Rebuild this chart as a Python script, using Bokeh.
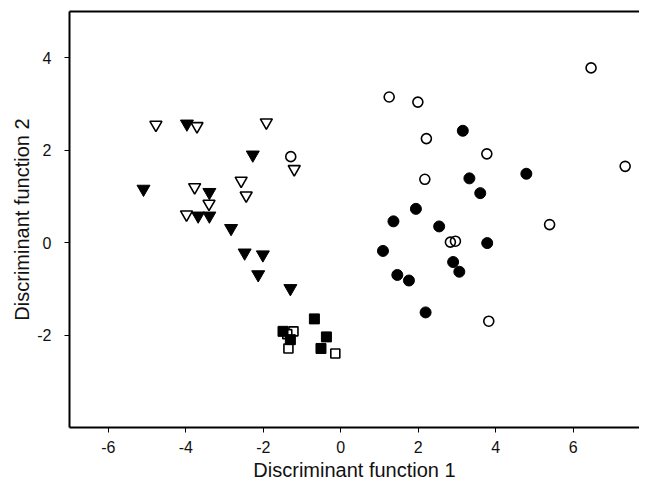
from bokeh.plotting import figure
from bokeh.models import LinearAxis, FixedTicker, Range1d, Title
from bokeh.embed import file_html
from bokeh.resources import INLINE

# Data
open_tri_x = [-4.77, -3.71, -1.92, -1.20, -3.77, -2.57, -2.44, -3.40, -3.98]
open_tri_y = [2.55, 2.52, 2.60, 1.59, 1.20, 1.34, 1.02, 0.84, 0.61]

fill_tri_x = [-3.97, -2.27, -5.09, -3.39, -3.68, -3.39, -2.83, -2.48, -2.01, -2.13, -1.30]
fill_tri_y = [2.57, 1.90, 1.16, 1.09, 0.58, 0.58, 0.31, -0.22, -0.26, -0.69, -0.99]

open_circ_x = [-1.29, 1.25, 1.99, 2.21, 3.77, 2.17, 2.83, 2.96, 3.82, 6.46, 7.34, 5.39]
open_circ_y = [1.86, 3.15, 3.04, 2.25, 1.92, 1.37, 0.01, 0.03, -1.70, 3.78, 1.65, 0.39]

fill_circ_x = [3.15, 3.32, 4.79, 3.60, 1.94, 1.36, 2.54, 3.78, 1.09, 2.90, 3.06, 1.46, 1.76, 2.19]
fill_circ_y = [2.42, 1.39, 1.49, 1.07, 0.73, 0.46, 0.35, -0.01, -0.18, -0.42, -0.63, -0.70, -0.82, -1.51]

open_sq_x = [-1.22, -1.38, -1.35, -0.14]
open_sq_y = [-1.92, -1.98, -2.29, -2.40]

fill_sq_x = [-0.68, -1.49, -1.30, -0.37, -0.51]
fill_sq_y = [-1.65, -1.92, -2.10, -2.04, -2.29]

x_ticks = [-6, -4, -2, 0, 2, 4, 6]
x_tick_labels = ["-6", "-4", "-2", "0", "2", "4", "6"]
y_ticks = [-2, 0, 2, 4]
y_tick_labels = ["-2", "0", "2", "4"]

FONT = "Liberation Sans"

p = figure(width=639, height=483, output_backend="svg", toolbar_location=None,
           x_range=Range1d(-7, 7.71), y_range=Range1d(-4, 5),
           min_border_left=69, min_border_right=0, min_border_top=11, min_border_bottom=0)
p.xgrid.visible = False
p.ygrid.visible = False
p.outline_line_color = None
p.background_fill_color = "white"

for ax in (p.xaxis[0], p.yaxis[0]):
    ax.axis_line_width = 2
    ax.axis_line_color = "black"
    ax.major_tick_line_color = "black"
    ax.major_tick_line_width = 1
    ax.major_tick_out = 5
    ax.major_tick_in = 0
    ax.minor_tick_line_color = None
    ax.major_label_text_font = FONT
    ax.major_label_text_font_size = "16px"
    ax.major_label_text_color = "#111111"

p.xaxis[0].ticker = FixedTicker(ticks=x_ticks)
p.yaxis[0].ticker = FixedTicker(ticks=y_ticks)
p.xaxis[0].major_label_overrides = {t: s for t, s in zip(x_ticks, x_tick_labels)}
p.yaxis[0].major_label_overrides = {t: s for t, s in zip(y_ticks, y_tick_labels)}
p.xaxis[0].major_label_standoff = 8
p.yaxis[0].major_label_standoff = 13
p.xaxis[0].axis_label = "Discriminant function 1"
p.xaxis[0].axis_label_text_font = FONT
p.xaxis[0].axis_label_text_font_size = "20px"
p.xaxis[0].axis_label_text_font_style = "normal"
p.xaxis[0].axis_label_text_color = "#111111"
p.xaxis[0].axis_label_standoff = 3

top = LinearAxis(ticker=FixedTicker(ticks=[]), axis_line_width=2, axis_line_color="black",
                 major_tick_line_color=None, minor_tick_line_color=None,
                 major_label_text_font_size="0px")
p.add_layout(top, "above")

ytitle = Title(text="Discriminant function 2", align="center", offset=20,
               text_font=FONT, text_font_size="20px", text_font_style="normal",
               text_color="#111111", standoff=4)
p.add_layout(ytitle, "left")

lw = 1.6
p.scatter(open_sq_x, open_sq_y, marker="square", size=9, fill_color="white",
          line_color="black", line_width=lw)
p.scatter(fill_sq_x, fill_sq_y, marker="square", size=10, fill_color="black",
          line_color="black", line_width=1)
p.scatter(open_tri_x, open_tri_y, marker="inverted_triangle", size=12, fill_color="white",
          line_color="black", line_width=lw)
p.scatter(fill_tri_x, fill_tri_y, marker="inverted_triangle", size=13, fill_color="black",
          line_color="black", line_width=1)
p.scatter(open_circ_x, open_circ_y, marker="circle", size=10, fill_color=None,
          line_color="black", line_width=lw)
p.scatter(fill_circ_x, fill_circ_y, marker="circle", size=11, fill_color="black",
          line_color="black", line_width=1)

open("out.html", "w").write(file_html(p, INLINE))
